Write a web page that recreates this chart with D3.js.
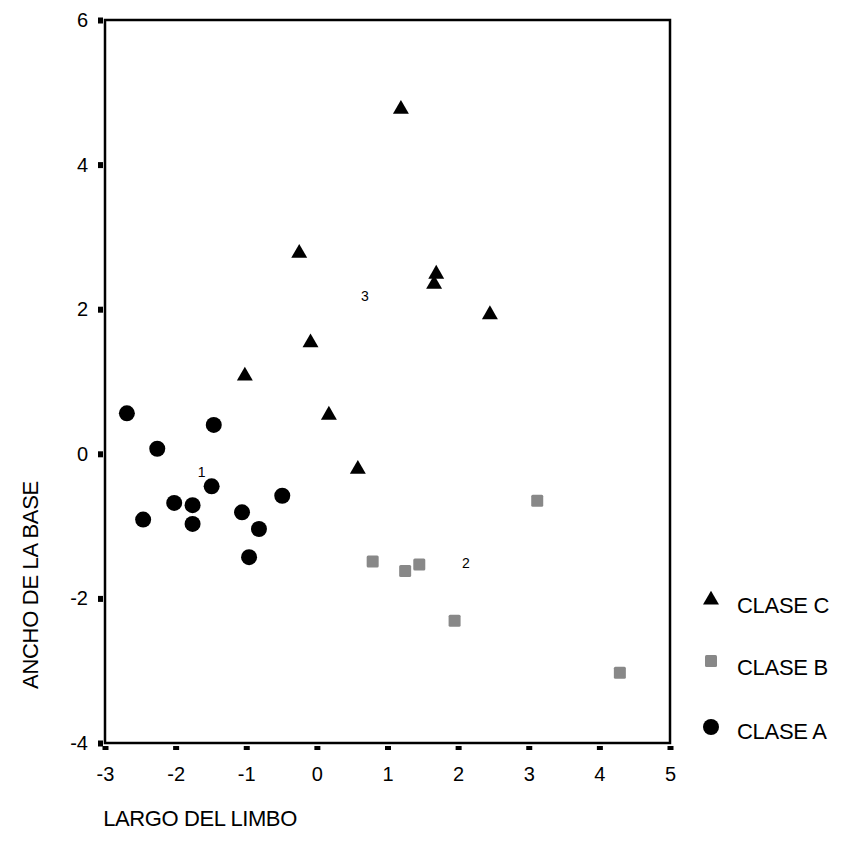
<!DOCTYPE html>
<html lang="en">
  <head>
    <meta charset="utf-8" />
    <style type="text/css">
      body {
        margin: 0;
        background: #fff;
      }
      text {
        font-family: "Liberation Sans", Arial, sans-serif;
        fill: #000;
      }
    </style>
  </head>
  <body>
    <svg width="844" height="855"></svg>

    <script src="https://d3js.org/d3.v7.min.js"></script>
    <script type="text/javascript">
      // group scores
      var claseA = [
        [-2.69, 0.56], [-1.46, 0.4], [-2.26, 0.07], [-1.49, -0.45],
        [-2.02, -0.68], [-1.76, -0.71], [-2.46, -0.91], [-1.76, -0.97],
        [-0.49, -0.58], [-1.06, -0.81], [-0.82, -1.04], [-0.96, -1.43]
      ];
      var claseB = [
        [3.12, -0.65], [0.79, -1.49], [1.25, -1.62], [1.45, -1.53],
        [1.95, -2.31], [4.29, -3.03]
      ];
      var claseC = [
        [1.19, 4.78], [-0.25, 2.79], [1.69, 2.5], [1.66, 2.36],
        [2.45, 1.94], [-0.09, 1.55], [-1.02, 1.09], [0.17, 0.55],
        [0.58, -0.2]
      ];
      var centroids = [
        { label: "1", x: -1.63, y: -0.26 },
        { label: "2", x: 2.11, y: -1.51 },
        { label: "3", x: 0.68, y: 2.18 }
      ];
      var xTicks = [-3, -2, -1, 0, 1, 2, 3, 4, 5];
      var yTicks = [-4, -2, 0, 2, 4, 6];
      var legendItems = ["CLASE C", "CLASE B", "CLASE A"];

      var svg = d3.select("svg");
      var pLeft = 105, pRight = 670, pTop = 20, pBottom = 743;

      var x = d3.scaleLinear().domain([-3, 5]).range([pLeft, pRight]);
      var y = d3.scaleLinear().domain([-4, 6]).range([pBottom, pTop]);

      // frame
      svg
        .append("rect")
        .attr("x", pLeft)
        .attr("y", pTop)
        .attr("width", pRight - pLeft)
        .attr("height", pBottom - pTop)
        .attr("fill", "none")
        .attr("stroke", "#000")
        .attr("stroke-width", 2.5);

      var fmt = (d) => String(d); // plain hyphen minus like the original

      // axes: d3 axes, restyled with small square ticks
      var xAxis = svg
        .append("g")
        .attr("transform", "translate(0," + pBottom + ")")
        .call(d3.axisBottom(x).tickValues(xTicks).tickSize(0).tickPadding(24).tickFormat(fmt));
      xAxis.select(".domain").remove();
      xAxis
        .selectAll(".tick")
        .append("rect")
        .attr("x", -3)
        .attr("y", 3)
        .attr("width", 6)
        .attr("height", 4)
        .attr("fill", "#000");
      xAxis.selectAll("text").attr("font-size", 20).attr("fill", "#000").attr("font-family", "Liberation Sans, Arial, sans-serif");

      var yAxis = svg
        .append("g")
        .attr("transform", "translate(" + pLeft + ",0)")
        .call(d3.axisLeft(y).tickValues(yTicks).tickSize(0).tickPadding(17).tickFormat(fmt));
      yAxis.select(".domain").remove();
      yAxis
        .selectAll(".tick")
        .append("rect")
        .attr("x", -7)
        .attr("y", -3)
        .attr("width", 5)
        .attr("height", 6)
        .attr("fill", "#000");
      yAxis.selectAll("text").attr("font-size", 20).attr("fill", "#000").attr("font-family", "Liberation Sans, Arial, sans-serif");

      // axis titles
      svg
        .append("text")
        .attr("x", 200)
        .attr("y", 826)
        .attr("text-anchor", "middle")
        .attr("font-size", 22)
        .attr("letter-spacing", -0.4)
        .text("LARGO DEL LIMBO");

      svg
        .append("text")
        .attr("transform", "translate(38,585) rotate(-90)")
        .attr("text-anchor", "middle")
        .attr("font-size", 22)
        .attr("letter-spacing", -0.3)
        .text("ANCHO DE LA BASE");

      var tri = d3.symbol().type(d3.symbolTriangle).size(110);

      // points
      svg
        .append("g")
        .selectAll("circle")
        .data(claseA)
        .enter()
        .append("circle")
        .attr("cx", (d) => x(d[0]))
        .attr("cy", (d) => y(d[1]))
        .attr("r", 8)
        .attr("fill", "#000");

      svg
        .append("g")
        .selectAll("rect")
        .data(claseB)
        .enter()
        .append("rect")
        .attr("x", (d) => x(d[0]) - 6)
        .attr("y", (d) => y(d[1]) - 6)
        .attr("width", 12)
        .attr("height", 12)
        .attr("rx", 1.5)
        .attr("fill", "#888");

      svg
        .append("g")
        .selectAll("path")
        .data(claseC)
        .enter()
        .append("path")
        .attr("d", tri)
        .attr("transform", (d) => "translate(" + x(d[0]) + "," + (y(d[1]) + 1) + ")")
        .attr("fill", "#000");

      // centroid labels
      svg
        .append("g")
        .selectAll("text")
        .data(centroids)
        .enter()
        .append("text")
        .attr("x", (d) => x(d.x))
        .attr("y", (d) => y(d.y))
        .attr("dy", "0.35em")
        .attr("text-anchor", "middle")
        .attr("font-size", 14)
        .text((d) => d.label);

      // legend
      var legY = [603, 665, 729];
      var leg = svg
        .append("g")
        .selectAll("g")
        .data(legendItems)
        .enter()
        .append("g")
        .attr("transform", (d, i) => "translate(711," + legY[i] + ")");

      leg
        .filter((d, i) => i === 0)
        .append("path")
        .attr("d", tri)
        .attr("transform", "translate(0,-3)")
        .attr("fill", "#000");
      leg
        .filter((d, i) => i === 1)
        .append("rect")
        .attr("x", -6)
        .attr("y", -10)
        .attr("width", 12)
        .attr("height", 12)
        .attr("rx", 1.5)
        .attr("fill", "#888");
      leg
        .filter((d, i) => i === 2)
        .append("circle")
        .attr("cy", -2)
        .attr("r", 8)
        .attr("fill", "#000");

      leg
        .append("text")
        .attr("x", 26)
        .attr("y", 2)
        .attr("dy", "0.35em")
        .attr("font-size", 22)
        .attr("letter-spacing", -0.3)
        .text((d) => d);
    </script>
  </body>
</html>
